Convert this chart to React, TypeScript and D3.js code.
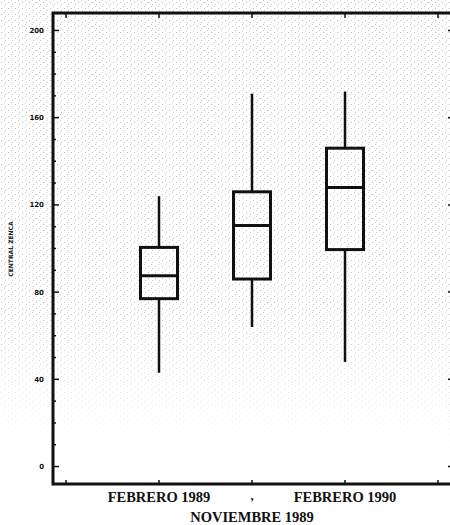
import React, { useEffect, useRef } from 'react';
import * as d3 from 'd3';

const width = 450;
const height = 525;

// categories along x (outer slots are empty)
const slots = ['', 'FEBRERO 1989', 'NOVIEMBRE 1989', 'FEBRERO 1990', ' '];
const periods = ['FEBRERO 1989', 'NOVIEMBRE 1989', 'FEBRERO 1990'];
const whiskerLow = [43, 64, 48];
const q1 = [77, 86, 99.5];
const median = [87.5, 110.5, 128];
const q3 = [100.5, 126, 146];
const whiskerHigh = [124, 171, 172];
const yTicks = [0, 40, 80, 120, 160, 200];
const yTitle = 'CENTRAL ZENCA';

const left = 53;
const right = 456;
const top = 13;
const bottom = 484;

export default function App() {
  const gRef = useRef<SVGGElement>(null);

  useEffect(() => {
    const g = d3.select(gRef.current);
    g.selectAll('*').remove();

    const x = d3.scalePoint<string>().domain(slots).range([66, 438]);
    const y = d3.scaleLinear().domain([-8, 208]).range([bottom, top]);

    // frame
    g.append('rect')
      .attr('x', left)
      .attr('y', top)
      .attr('width', right - left)
      .attr('height', bottom - top)
      .attr('fill', 'none')
      .attr('stroke', '#111')
      .attr('stroke-width', 3);

    // left axis ticks (inside)
    const minor = d3.range(0, 210, 10);
    g.append('g')
      .selectAll('line')
      .data(minor)
      .join('line')
      .attr('x1', left)
      .attr('x2', (d) => left + (d % 40 === 0 ? 6 : 3))
      .attr('y1', (d) => y(d))
      .attr('y2', (d) => y(d))
      .attr('stroke', '#111')
      .attr('stroke-width', 1.5);

    // right axis ticks
    g.append('g')
      .selectAll('line')
      .data(yTicks)
      .join('line')
      .attr('x1', right)
      .attr('x2', right - 8)
      .attr('y1', (d) => y(d))
      .attr('y2', (d) => y(d))
      .attr('stroke', '#111')
      .attr('stroke-width', 1.5);

    // y tick labels
    g.append('g')
      .selectAll('text')
      .data(yTicks)
      .join('text')
      .attr('x', left - 9)
      .attr('y', (d) => y(d))
      .attr('dy', '0.35em')
      .attr('text-anchor', 'end')
      .attr('font-family', 'DejaVu Sans, sans-serif')
      .attr('font-weight', 'bold')
      .attr('font-size', 7)
      .attr('fill', '#111')
      .text((d) => d);

    // y title
    g.append('text')
      .attr('transform', `translate(13,249) rotate(-90)`)
      .attr('text-anchor', 'middle')
      .attr('font-family', 'DejaVu Sans, sans-serif')
      .attr('font-weight', 'bold')
      .attr('font-size', 6)
      .attr('fill', '#222')
      .text(yTitle);

    // top and bottom ticks
    g.append('g')
      .selectAll('line')
      .data(slots)
      .join('line')
      .attr('x1', (d) => x(d)!)
      .attr('x2', (d) => x(d)!)
      .attr('y1', top)
      .attr('y2', top + 5)
      .attr('stroke', '#111')
      .attr('stroke-width', 1.5);
    g.append('g')
      .selectAll('line')
      .data(slots)
      .join('line')
      .attr('x1', (d) => x(d)!)
      .attr('x2', (d) => x(d)!)
      .attr('y1', bottom)
      .attr('y2', bottom - 4)
      .attr('stroke', '#111')
      .attr('stroke-width', 1.5);

    // boxes
    const bw = 37;
    const boxes = g
      .append('g')
      .selectAll('g')
      .data(periods)
      .join('g')
      .attr('transform', (d) => `translate(${x(d)},0)`);

    boxes
      .append('line')
      .attr('y1', (_, i) => y(whiskerHigh[i]))
      .attr('y2', (_, i) => y(q3[i]))
      .attr('stroke', '#111')
      .attr('stroke-width', 2.5);
    boxes
      .append('line')
      .attr('y1', (_, i) => y(q1[i]))
      .attr('y2', (_, i) => y(whiskerLow[i]))
      .attr('stroke', '#111')
      .attr('stroke-width', 2.5);
    boxes
      .append('rect')
      .attr('x', -bw / 2)
      .attr('y', (_, i) => y(q3[i]))
      .attr('width', bw)
      .attr('height', (_, i) => y(q1[i]) - y(q3[i]))
      .attr('fill', 'none')
      .attr('stroke', '#111')
      .attr('stroke-width', 3);
    boxes
      .append('line')
      .attr('x1', -bw / 2)
      .attr('x2', bw / 2)
      .attr('y1', (_, i) => y(median[i]))
      .attr('y2', (_, i) => y(median[i]))
      .attr('stroke', '#111')
      .attr('stroke-width', 3);

    // x labels, middle one on a second line
    g.append('g')
      .selectAll('text')
      .data(periods)
      .join('text')
      .attr('x', (d) => x(d)!)
      .attr('y', (_, i) => (i === 1 ? 522 : 502))
      .attr('text-anchor', 'middle')
      .attr('font-family', 'Liberation Serif, serif')
      .attr('font-weight', 'bold')
      .attr('font-size', 14.5)
      .attr('fill', '#111')
      .text((d) => d);

    g.append('text')
      .attr('x', x(periods[1])!)
      .attr('y', 500)
      .attr('text-anchor', 'middle')
      .attr('font-family', 'Liberation Serif, serif')
      .attr('font-weight', 'bold')
      .attr('font-size', 13)
      .attr('fill', '#111')
      .text(',');
  }, []);

  return (
    <svg
      width={width}
      height={height}
      viewBox={`0 0 ${width} ${height}`}
      style={{ position: 'absolute', left: 0, top: 0, background: '#fff' }}
    >
      <defs>
        <pattern id="speck" width="7" height="6" patternUnits="userSpaceOnUse">
          <rect x="1" y="2" width="1" height="1" fill="#888" />
          <rect x="4" y="0" width="1" height="1" fill="#aaa" />
          <rect x="5" y="4" width="1" height="1" fill="#999" />
        </pattern>
        <linearGradient id="fade" x1="0" y1="0" x2="0" y2="1">
          <stop offset="0" stopColor="#fff" stopOpacity={1} />
          <stop offset="0.7" stopColor="#fff" stopOpacity={0.9} />
          <stop offset="1" stopColor="#fff" stopOpacity={0} />
        </linearGradient>
        <mask id="fadeMask">
          <rect x={0} y={0} width={width} height={450} fill="url(#fade)" />
        </mask>
      </defs>
      <rect
        x={0}
        y={0}
        width={width}
        height={450}
        fill="url(#speck)"
        opacity={0.55}
        mask="url(#fadeMask)"
      />
      <g ref={gRef}></g>
    </svg>
  );
}
